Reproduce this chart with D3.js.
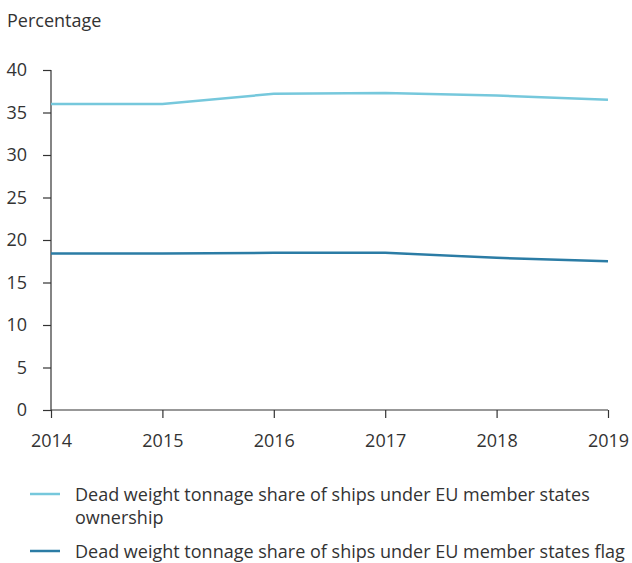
<!DOCTYPE html>
<html><head><meta charset="utf-8">
<script src="https://cdn.jsdelivr.net/npm/d3@7"></script>
<style>body{margin:0;background:#fff;font-family:"Open Sans",sans-serif;}</style>
</head><body><svg id="c" width="632" height="563"></svg>
<script>
const years = [2014, 2015, 2016, 2017, 2018, 2019];
const ownership = [36.0, 36.0, 37.2, 37.3, 37.0, 36.5];
const flag = [18.4, 18.4, 18.5, 18.5, 17.9, 17.5];
const yTicks = [0, 5, 10, 15, 20, 25, 30, 35, 40];
const seriesNames = ["Dead weight tonnage share of ships under EU member states ownership", "Dead weight tonnage share of ships under EU member states flag"];
const colors = ["#76c8dc", "#2b7ca5"];

const svg = d3.select("#c");
const x = d3.scalePoint().domain(years).range([51, 608]);
const y = d3.scaleLinear().domain([0, 40]).range([410, 70]);
const txt = "#333";
const fs = 18;

svg.append("text").attr("x", 7).attr("y", 27).attr("font-size", fs).attr("fill", txt).text("Percentage");

const ya = svg.append("g").attr("transform", "translate(51,0)")
  .call(d3.axisLeft(y).tickValues(yTicks).tickSize(8).tickPadding(16));
const xa = svg.append("g").attr("transform", "translate(0,410)")
  .call(d3.axisBottom(x).tickSize(8).tickPadding(16));
[ya, xa].forEach(a => {
  a.selectAll("path, line").attr("stroke", "#333").attr("stroke-width", 1.2);
  a.selectAll("text").attr("font-size", fs).attr("fill", txt).attr("font-family", "Open Sans");
});
ya.select(".domain").attr("d", "M0,70V410");
xa.select(".domain").attr("d", "M51,0H608");

const line = d3.line().x((d, i) => x(years[i])).y(d => y(d));
[ownership, flag].forEach((s, i) => {
  svg.append("path").attr("d", line(s)).attr("fill", "none").attr("stroke", colors[i]).attr("stroke-width", 2.5);
});

// legend
const leg = [
  {lines: ["Dead weight tonnage share of ships under EU member states", "ownership"], y: 494},
  {lines: [seriesNames[1]], y: 551}
];
leg.forEach((l, i) => {
  svg.append("line").attr("x1", 30).attr("x2", 60).attr("y1", l.y).attr("y2", l.y).attr("stroke", colors[i]).attr("stroke-width", 2.5);
  const t = svg.append("text").attr("x", 75).attr("y", l.y + 7).attr("font-size", fs).attr("fill", txt);
  l.lines.forEach((s, j) => t.append("tspan").attr("x", 75).attr("dy", j ? 23 : 0).text(s));
});
</script></body></html>
